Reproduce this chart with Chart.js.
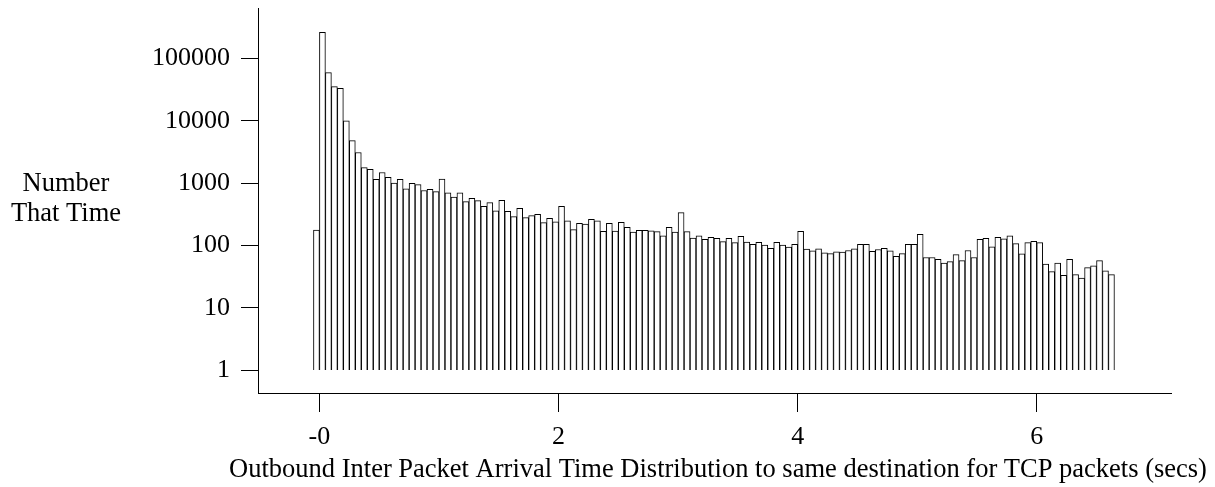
<!DOCTYPE html>
<html><head><meta charset="utf-8">
<script src="https://cdn.jsdelivr.net/npm/chart.js@4"></script>
<style>html,body{margin:0;padding:0;background:#fff}#wrap{width:1215px;height:487px;position:relative}</style>
</head><body><div id="wrap"><canvas id="c" width="1215" height="487"></canvas></div>
<script>
// Histogram bin left edges (secs)
const binLeft = [
  -0.05,0,0.05,0.1,0.15,0.2,0.25,0.3,0.35,0.4,0.45,0.5,0.55,0.6,0.65,0.7,0.75,0.8,0.85,0.9,
  0.95,1,1.05,1.1,1.15,1.2,1.25,1.3,1.35,1.4,1.45,1.5,1.55,1.6,1.65,1.7,1.75,1.8,1.85,1.9,
  1.95,2,2.05,2.1,2.15,2.2,2.25,2.3,2.35,2.4,2.45,2.5,2.55,2.6,2.65,2.7,2.75,2.8,2.85,2.9,
  2.95,3,3.05,3.1,3.15,3.2,3.25,3.3,3.35,3.4,3.45,3.5,3.55,3.6,3.65,3.7,3.75,3.8,3.85,3.9,
  3.95,4,4.05,4.1,4.15,4.2,4.25,4.3,4.35,4.4,4.45,4.5,4.55,4.6,4.65,4.7,4.75,4.8,4.85,4.9,
  4.95,5,5.05,5.1,5.15,5.2,5.25,5.3,5.35,5.4,5.45,5.5,5.55,5.6,5.65,5.7,5.75,5.8,5.85,5.9,
  5.95,6,6.05,6.1,6.15,6.2,6.25,6.3,6.35,6.4,6.45,6.5,6.55,6.6
];
const binWidth = 0.05;
// Number of packets per bin
const counts = [
  177,263000,59200,35300,33200,10000,4800,3100,1770,1660,1150,1480,1240,1000,1150,810,990,944,760,795,
  730,1160,700,598,701,503,569,522,424,485,360,529,352,289,394,279,300,315,232,272,
  238,424,249,179,226,220,262,249,168,226,170,235,195,164,175,175,172,166,142,195,
  164,335,166,131,142,125,135,130,115,130,111,140,113,104,112,101,90,112,101,94,
  104,168,87,82,88,76,74,79,78,83,88,104,104,80,86,90,82,67,74,104,
  104,151,64,64,60,52,55,71,57,83,64,125,130,95,135,127,143,107,73,111,
  116,111,50,38,52,33,60,34,30,44,47,57,39,34
];
const xTicks = [0,2,4,6];
const xTickLabels = ['-0','2','4','6'];
const yTicks = [1,10,100,1000,10000,100000];
const yTickLabels = ['1','10','100','1000','10000','100000'];
const yTitle = ['Number','That Time'];
const xTitle = 'Outbound Inter Packet Arrival Time Distribution to same destination for TCP packets (secs)';
const FONT = '"Liberation Serif", "Times New Roman", serif';
const FS = 26;
const FST = 26.5;

const barData = binLeft.map((b,i)=>({x: b + binWidth/2, y: [1, counts[i]]}));

const titles = {
  id:'titles',
  afterDraw(chart){
    const ctx = chart.ctx;
    ctx.save();
    ctx.fillStyle = '#000';
    ctx.font = FST + 'px ' + FONT;
    ctx.textAlign = 'center';
    ctx.textBaseline = 'middle';
    ctx.fillText(yTitle[0], 66, 184);
    ctx.fillText(yTitle[1], 66, 214);
    ctx.fillText(xTitle, 718, 470);
    ctx.restore();
  }
};

function noPad(s){ s.paddingTop = 0; s.paddingBottom = 0; s.paddingLeft = 0; s.paddingRight = 0; }

new Chart(document.getElementById('c'), {
  type:'bar',
  data:{datasets:[{
    data: barData,
    backgroundColor:'#fff', borderColor:'#000', borderWidth:1,
    borderSkipped:'bottom', barPercentage:1, categoryPercentage:1
  }]},
  options:{
    responsive:false, animation:false, devicePixelRatio:1,
    layout:{padding:{top:8,right:44,left:0,bottom:0}},
    plugins:{legend:{display:false}, tooltip:{enabled:false}, title:{display:false}},
    scales:{
      x:{
        type:'linear', min:-0.514, max:7.123, offset:false,
        afterFit(s){ s.height = 94; noPad(s); },
        afterBuildTicks(s){ s.ticks = xTicks.map(v=>({value:v})); },
        ticks:{callback:(v)=>xTickLabels[xTicks.indexOf(v)], font:{family:FONT,size:FS}, color:'#000', padding:10, maxRotation:0, autoSkip:false},
        grid:{offset:false, drawOnChartArea:false, drawTicks:true, tickLength:19, color:'#000', lineWidth:1},
        border:{display:true, color:'#000', width:1}
      },
      y:{
        type:'logarithmic', min:0.428, max:646000,
        afterFit(s){ s.width = 258; noPad(s); },
        afterBuildTicks(s){ s.ticks = yTicks.map(v=>({value:v})); },
        ticks:{callback:(v)=>yTickLabels[yTicks.indexOf(v)], font:{family:FONT,size:FS}, color:'#000', padding:11, autoSkip:false},
        grid:{drawOnChartArea:false, drawTicks:true, tickLength:17, color:'#000', lineWidth:1},
        border:{display:true, color:'#000', width:1}
      }
    }
  },
  plugins:[titles]
});
</script></body></html>
